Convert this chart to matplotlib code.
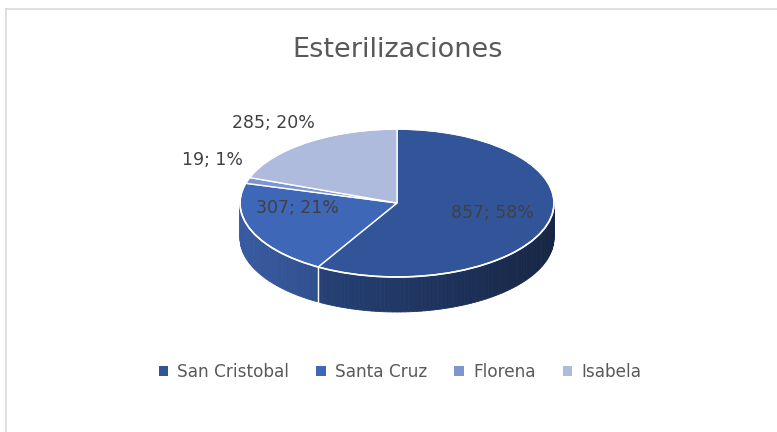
# EXT
import numpy as np
import matplotlib
matplotlib.use("Agg")
import matplotlib.pyplot as plt
from matplotlib.lines import Line2D
from matplotlib.patches import Polygon, Ellipse

# GLOBALS
TITLE = "Esterilizaciones"
ISLANDS = ["San Cristobal", "Santa Cruz", "Florena", "Isabela"]
STERILIZATIONS = [857, 307, 19, 285]
PERCENT_LABELS = ["58%", "21%", "1%", "20%"]
COLORS = ["#32559A", "#3F67B8", "#7C96D2", "#AFBBDC"]

W, H = 777, 432
CX, CY = 397, 203      # pie center in pixels
RX, RY = 157, 74       # ellipse half axes in pixels
DEPTH = 35             # pie thickness in pixels
TEXT_GREY = "#595959"
LABEL_GREY = "#404040"

# label spots in pie units (x along RX, y along RY)
LABEL_SPOTS = [(0.611, -0.135), (-0.637, -0.068), (-1.172, 0.581), (-0.79, 1.081)]


def shade(color, factor):
    rgb = np.array(matplotlib.colors.to_rgb(color))
    return tuple(np.clip(rgb * factor, 0, 1))


def draw_side_walls(ax, angles, depth):
    # front rim only: bottom half of the ellipse
    for i, (a1, a2) in enumerate(zip(angles[:-1], angles[1:])):
        lo, hi = min(a1, a2), max(a1, a2)
        steps = np.arange(lo, hi + 0.01, 1.5)
        for s1, s2 in zip(steps[:-1], steps[1:]):
            mid = np.deg2rad((s1 + s2) / 2)
            if np.sin(mid) > 0.02:
                continue
            t = np.deg2rad([s1, s2])
            x = np.cos(t)
            y = np.sin(t)
            pts = [(x[0], y[0]), (x[1], y[1]), (x[1], y[1] - depth), (x[0], y[0] - depth)]
            factor = 0.88 - 0.44 * (np.cos(mid) + 1) / 2
            ax.add_patch(Polygon(pts, closed=True, facecolor=shade(COLORS[i], factor),
                                 edgecolor=shade(COLORS[i], factor), linewidth=0.6, zorder=1))
    # white seam on the side where slices meet
    for a in angles[1:-1]:
        t = np.deg2rad(a)
        if np.sin(t) < 0:
            ax.plot([np.cos(t), np.cos(t)], [np.sin(t), np.sin(t) - depth],
                    color="white", linewidth=1.0, zorder=2)


def plot_pie():
    fig = plt.figure(figsize=(W / 100, H / 100), dpi=100)
    fig.patch.set_facecolor("white")
    ax = fig.add_axes([0, 0, 1, 1])

    total = sum(STERILIZATIONS)
    fracs = np.array(STERILIZATIONS) / total
    # clockwise from 12 o'clock like Excel
    angles = 90 - 360 * np.concatenate([[0], np.cumsum(fracs)])

    depth = DEPTH / RY
    draw_side_walls(ax, angles, depth)

    wedges, _ = ax.pie(STERILIZATIONS, colors=COLORS, startangle=90, counterclock=False,
                       radius=1, center=(0, 0),
                       wedgeprops=dict(edgecolor="white", linewidth=1.0, zorder=3))
    for w in wedges:
        w.set_zorder(3)
    ax.add_patch(Ellipse((0, 0), 2, 2, fill=False, edgecolor="white", linewidth=1.2, zorder=4))

    # squash circle into ellipse with pixel based limits
    ax.set_aspect("auto")
    ax.set_xlim(-CX / RX, (W - CX) / RX)
    ax.set_ylim((CY - H) / RY, CY / RY)
    ax.axis("off")

    for (x, y), n, p in zip(LABEL_SPOTS, STERILIZATIONS, PERCENT_LABELS):
        ax.text(x, y, "{}; {}".format(n, p), ha="center", va="center",
                fontsize=12.5, color=LABEL_GREY, zorder=5)

    fig.text(398 / W, 1 - 50 / H, TITLE, ha="center", va="center", fontsize=19.5, color=TEXT_GREY)

    leg = fig.legend(wedges, ISLANDS, loc="center", bbox_to_anchor=(400 / W, 1 - 372 / H),
                     ncol=4, frameon=False, fontsize=12.2, handlelength=0.55, handleheight=0.55,
                     handletextpad=0.55, columnspacing=1.6)
    for txt in leg.get_texts():
        txt.set_color(TEXT_GREY)
    for h in leg.legend_handles:
        h.set_edgecolor("none")

    # chart frame (top and left edges visible)
    fig.add_artist(Line2D([5.5 / W, 5.5 / W], [0, 1 - 8.5 / H], color="#D9D9D9", linewidth=1.2))
    fig.add_artist(Line2D([5.5 / W, 1], [1 - 8.5 / H, 1 - 8.5 / H], color="#D9D9D9", linewidth=1.2))

    fig.savefig("out.png", dpi=100, facecolor="white")


if __name__ == "__main__":
    plot_pie()
